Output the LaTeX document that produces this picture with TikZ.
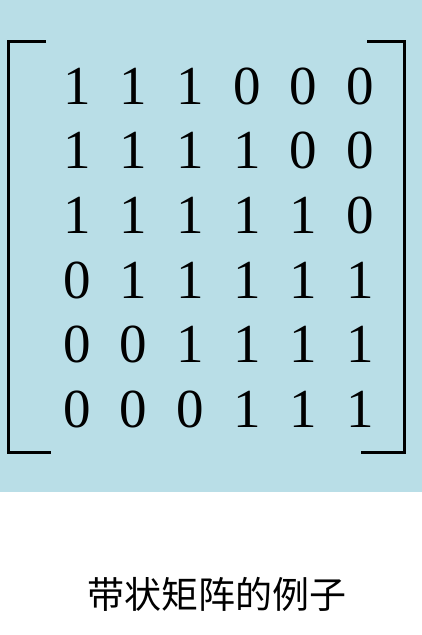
\documentclass[tikz,border=0pt]{standalone}
\usepackage{fontspec}
\setmainfont{Liberation Serif}
\newfontfamily\cjk{Noto Sans CJK SC}
\definecolor{bgblue}{RGB}{185,222,231}
\begin{document}
\begin{tikzpicture}[x=1pt,y=-1pt,
  digit/.style={font=\fontsize{55}{55}\selectfont, inner sep=0pt, anchor=center},
  bracket/.style={line width=3pt, line cap=butt, line join=miter}]
\useasboundingbox (0,0) rectangle (422,635);
\fill[bgblue] (0,0) rectangle (422,492);
% brackets
\coordinate (lt) at (46,41);
\coordinate (lb) at (51,452);
\coordinate (rt) at (367,41);
\coordinate (rb) at (361,452);
\draw[bracket] (lt) -- (8,41) -- (8,452) -- (lb);
\draw[bracket] (rt) -- (404,41) -- (404,452) -- (rb);
% entries
\foreach \r/\row in {0/{1,1,1,0,0,0},1/{1,1,1,1,0,0},2/{1,1,1,1,1,0},3/{0,1,1,1,1,1},4/{0,0,1,1,1,1},5/{0,0,0,1,1,1}}{
  \foreach \v [count=\c from 0] in \row {
    \node[digit] (m\r\c) at ({77+56.6*\c},{86+64.7*\r}) {\v};
  }
}
\node[font=\cjk\fontsize{37}{37}\selectfont, inner sep=0pt] (cap) at (217,594) {带状矩阵的例子};
\end{tikzpicture}
\end{document}
